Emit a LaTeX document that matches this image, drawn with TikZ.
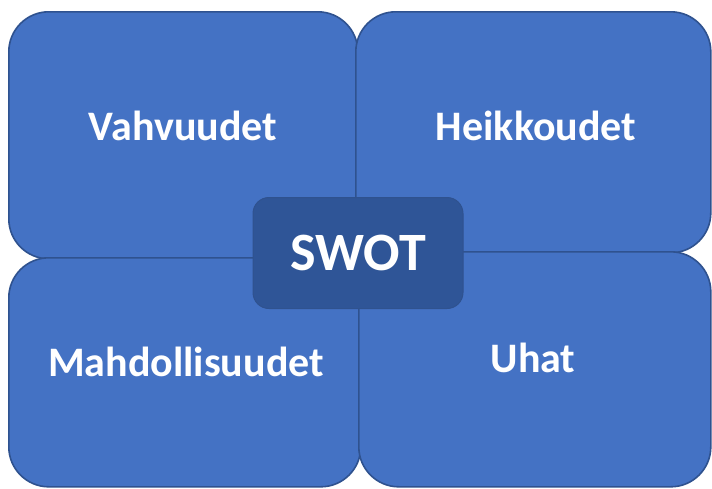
\documentclass[tikz,border=0pt]{standalone}
\usepackage{fontspec}
\setmainfont{Carlito}
\definecolor{boxfill}{HTML}{4472C4}
\definecolor{boxline}{HTML}{2F528F}
\definecolor{swotfill}{HTML}{2F5597}
\begin{document}
\begin{tikzpicture}[x=1pt,y=-1pt,
  quad/.style={draw=boxline, line width=1.6pt, fill=boxfill, rounded corners=40pt},
  lbl/.style={text=white, font=\bfseries\fontsize{42}{48}\selectfont, inner sep=0pt},
  swot/.style={draw=boxline, line width=1pt, fill=swotfill, rounded corners=16pt,
     minimum width=210pt, minimum height=111pt, text=white,
     font=\bfseries\fontsize{54}{60}\selectfont}]
\useasboundingbox (0,0) rectangle (712,488);
\fill[white] (0,0) rectangle (712,488);
\node[quad, minimum width=349pt, minimum height=247pt, anchor=north west] (tl) at (8,11) {};
\node[quad, minimum width=355pt, minimum height=241pt, anchor=north west] (tr) at (355,11) {};
\node[quad, minimum width=352pt, minimum height=229pt, anchor=north west] (bl) at (8,257) {};
\node[quad, minimum width=352pt, minimum height=235pt, anchor=north west] (br) at (358,251) {};
\node[lbl] (s) at (183,126) {Vahvuudet};
\node[lbl] (w) at (536,126) {Heikkoudet};
\node[lbl] (o) at (186,362) {Mahdollisuudet};
\node[lbl] (t) at (533,358) {Uhat};
\node[swot] (c) at (358,253) {SWOT};
\end{tikzpicture}
\end{document}
